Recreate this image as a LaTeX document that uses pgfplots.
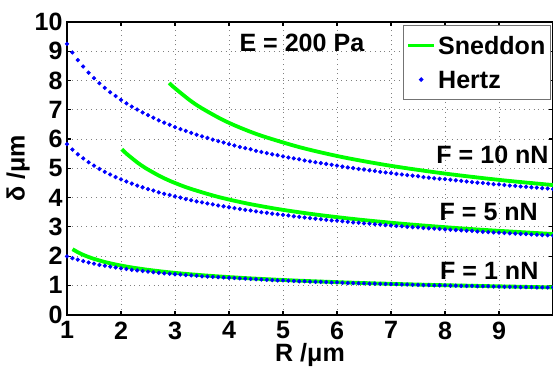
\documentclass[border=0pt]{standalone}
\usepackage{pgfplots}
\usepackage{pgfplotstable}
\pgfplotsset{compat=1.18}
\usepackage{fontspec}
\setmainfont{Liberation Sans}
\definecolor{sgreen}{RGB}{0,255,0}
\definecolor{hblue}{RGB}{0,0,255}
\pgfplotsset{
  legline/.style={legend image code/.code={\draw[##1] (0cm,0cm) -- (0.46cm,0cm);}},
  legdot/.style={legend image code/.code={\draw[mark repeat=2,mark phase=2,##1] plot coordinates {(0cm,0cm) (0.23cm,0cm) (0.46cm,0cm)};}},
}
\pgfplotstableread{
R d10 d5 d1
1.0 9.25 5.83 1.99
1.1 8.96 5.64 1.93
1.2 8.70 5.48 1.88
1.3 8.48 5.34 1.83
1.4 8.27 5.21 1.78
1.5 8.08 5.09 1.74
1.6 7.91 4.98 1.70
1.7 7.75 4.88 1.67
1.8 7.60 4.79 1.64
1.9 7.47 4.70 1.61
2.0 7.34 4.62 1.58
2.1 7.22 4.55 1.56
2.2 7.11 4.48 1.53
2.3 7.01 4.41 1.51
2.4 6.91 4.35 1.49
2.5 6.82 4.29 1.47
2.6 6.73 4.24 1.45
2.7 6.64 4.18 1.43
2.8 6.56 4.13 1.41
2.9 6.49 4.09 1.40
3.0 6.41 4.04 1.38
3.1 6.34 4.00 1.37
3.2 6.28 3.95 1.35
3.3 6.21 3.91 1.34
3.4 6.15 3.87 1.33
3.5 6.09 3.84 1.31
3.6 6.04 3.80 1.30
3.7 5.98 3.77 1.29
3.8 5.93 3.73 1.28
3.9 5.88 3.70 1.27
4.0 5.83 3.67 1.26
4.1 5.78 3.64 1.25
4.2 5.73 3.61 1.24
4.3 5.69 3.58 1.23
4.4 5.65 3.56 1.22
4.5 5.60 3.53 1.21
4.6 5.56 3.50 1.20
4.7 5.52 3.48 1.19
4.8 5.48 3.45 1.18
4.9 5.45 3.43 1.17
5.0 5.41 3.41 1.17
5.1 5.37 3.39 1.16
5.2 5.34 3.36 1.15
5.3 5.31 3.34 1.14
5.4 5.27 3.32 1.14
5.5 5.24 3.30 1.13
5.6 5.21 3.28 1.12
5.7 5.18 3.26 1.12
5.8 5.15 3.24 1.11
5.9 5.12 3.22 1.10
6.0 5.09 3.21 1.10
6.1 5.06 3.19 1.09
6.2 5.03 3.17 1.08
6.3 5.01 3.15 1.08
6.4 4.98 3.14 1.07
6.5 4.96 3.12 1.07
6.6 4.93 3.11 1.06
6.7 4.91 3.09 1.06
6.8 4.88 3.08 1.05
6.9 4.86 3.06 1.05
7.0 4.84 3.05 1.04
7.1 4.81 3.03 1.04
7.2 4.79 3.02 1.03
7.3 4.77 3.00 1.03
7.4 4.75 2.99 1.02
7.5 4.73 2.98 1.02
7.6 4.70 2.96 1.01
7.7 4.68 2.95 1.01
7.8 4.66 2.94 1.00
7.9 4.64 2.93 1.00
8.0 4.63 2.91 1.00
8.1 4.61 2.90 0.99
8.2 4.59 2.89 0.99
8.3 4.57 2.88 0.98
8.4 4.55 2.87 0.98
8.5 4.53 2.86 0.98
8.6 4.51 2.84 0.97
8.7 4.50 2.83 0.97
8.8 4.48 2.82 0.97
8.9 4.46 2.81 0.96
9.0 4.45 2.80 0.96
9.1 4.43 2.79 0.95
9.2 4.41 2.78 0.95
9.3 4.40 2.77 0.95
9.4 4.38 2.76 0.94
9.5 4.37 2.75 0.94
9.6 4.35 2.74 0.94
9.7 4.34 2.73 0.93
9.8 4.32 2.72 0.93
9.9 4.31 2.71 0.93
10.0 4.29 2.70 0.93
}\hertz
\pgfplotstableread{
R d
2.893 7.916
2.970 7.783
3.262 7.345
3.483 7.069
3.846 6.693
4.164 6.422
4.610 6.108
5.343 5.705
6.118 5.377
6.978 5.092
7.957 4.831
9.100 4.586
10.461 4.351
}\sneddonA
\pgfplotstableread{
R d
2.015 5.653
2.100 5.503
2.307 5.194
2.463 4.999
2.720 4.733
2.945 4.541
3.260 4.319
3.778 4.034
4.326 3.802
4.934 3.600
5.626 3.416
6.435 3.243
7.397 3.076
8.568 2.914
10.023 2.753
}\sneddonB
\pgfplotstableread{
R d
1.102 2.236
1.216 2.117
1.317 2.031
1.458 1.932
1.690 1.804
1.935 1.701
2.207 1.610
2.516 1.528
2.878 1.450
3.308 1.376
3.832 1.303
4.483 1.231
5.313 1.159
6.404 1.085
7.892 1.010
10.017 0.930
}\sneddonC
\begin{document}
\begin{tikzpicture}
\begin{axis}[
  scale only axis, width=242.5pt, height=146pt,
  xmin=1, xmax=10, ymin=0, ymax=10,
  xtick={1,...,9}, ytick={0,...,10},
  grid=major, major grid style={black!50, dotted, line width=0.4pt},
  axis line style={line width=0.9pt},
  major tick length=2pt, tick style={line width=0.6pt, black},
  tick label style={font=\fontsize{12.5}{15}\selectfont\bfseries},
  yticklabel style={inner xsep=2pt},
  /pgf/number format/assume math mode=true,
  label style={font=\fontsize{12.5}{15}\selectfont\bfseries},
  xlabel={R /μm}, ylabel={δ /μm},
  xlabel style={yshift=5pt},
  ylabel style={yshift=-3pt},
  legend cell align=left,
  legend style={at={(axis cs:9.96,9.90)}, anchor=north east, draw=black!55, line width=0.5pt,
    font=\fontsize{12.5}{15}\selectfont\bfseries, inner xsep=1.5pt, inner ysep=5.5pt,
    nodes={inner xsep=1pt, inner ysep=0pt, text height=9pt, text depth=0pt}, row sep=8pt},
]
\addplot[sgreen, line width=1.9pt, smooth, legline] table[x=R,y=d] {\sneddonA};
\addlegendentry{Sneddon}
\addplot[hblue, only marks, mark=*, mark size=0.85pt, legdot] table[x=R,y=d10] {\hertz};
\addlegendentry{Hertz}
\addplot[sgreen, line width=1.9pt, smooth, forget plot] table[x=R,y=d] {\sneddonB};
\addplot[sgreen, line width=1.9pt, smooth, forget plot] table[x=R,y=d] {\sneddonC};
\addplot[hblue, only marks, mark=*, mark size=0.85pt, forget plot] table[x=R,y=d5] {\hertz};
\addplot[hblue, only marks, mark=*, mark size=0.85pt, forget plot] table[x=R,y=d1] {\hertz};
\node[font=\fontsize{12.5}{15}\selectfont\bfseries] at (axis cs:5.35,9.28) {E = 200 Pa};
\node[font=\fontsize{12.5}{15}\selectfont\bfseries] at (axis cs:8.88,5.45) {F = 10 nN};
\node[font=\fontsize{12.5}{15}\selectfont\bfseries] at (axis cs:8.81,3.50) {F = 5 nN};
\node[font=\fontsize{12.5}{15}\selectfont\bfseries] at (axis cs:8.82,1.51) {F = 1 nN};
\coordinate (bbA) at (axis cs:-0.2407,-1.781);
\coordinate (bbB) at (axis cs:10,10.753);
\end{axis}
\pgfresetboundingbox
\path[use as bounding box] (bbA) rectangle (bbB);
\end{tikzpicture}
\end{document}
